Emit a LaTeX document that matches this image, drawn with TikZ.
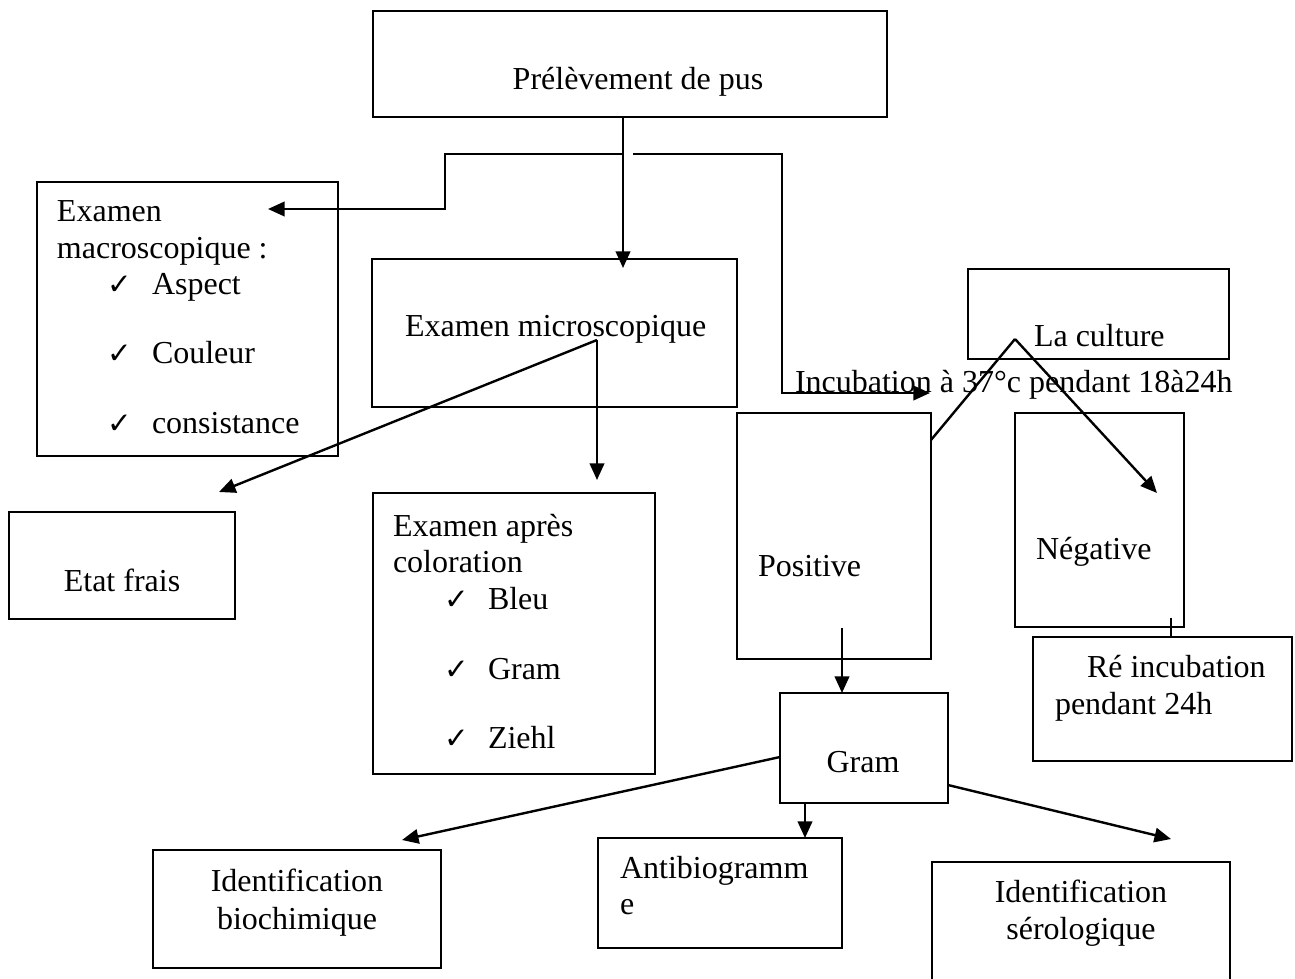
\documentclass[tikz,border=0pt]{standalone}
\usepackage{fontspec}
\setmainfont{Liberation Serif}
\newfontfamily\symfont{DejaVu Sans}
\usetikzlibrary{arrows.meta,fit,calc}
\tikzstyle{box}=[draw, line width=0.6pt, inner sep=0pt, outer sep=0pt]
\tikzstyle{txt}=[inner sep=0pt, outer sep=0pt,
                 font=\fontsize{12}{13.8}\selectfont]
\tikzstyle{chk}=[inner sep=0pt, outer sep=0pt,
                 font=\symfont\fontsize{11}{12}\selectfont]
\tikzstyle{edge}=[line width=0.9pt]
\tikzstyle{arr}=[edge, -{Triangle[length=6.2pt,width=5.4pt]}]

\begin{document}
\begin{tikzpicture}[x=0.375pt, y=-0.375pt]
    \useasboundingbox (0,0) rectangle (1295,978);
    \clip (0,0) rectangle (1295,978);

        % boxes
        \node (prel)  [box, fit={(373,11) (887,117)}] {};
        \node (macro) [box, fit={(37,182) (338,456)}] {};
        \node (micro) [box, fit={(372,259) (737,407)}] {};
        \node (etat)  [box, fit={(9,512) (235,619)}] {};
        \node (apres) [box, fit={(373,493) (655,774)}] {};
        \node (cult)  [box, fit={(968,269) (1229,359)}] {};
        \node (pos)   [box, fit={(737,413) (931,659)}] {};
        \node (neg)   [box, fit={(1015,413) (1184,627)}] {};
        \node (reinc) [box, fit={(1033,637) (1292,761)}] {};
        \node (gram)  [box, fit={(780,693) (948,803)}] {};
        \node (bio)   [box, fit={(153,850) (441,968)}] {};
        \node (anti)  [box, fit={(598,838) (842,948)}] {};
        \node (sero)  [box, fit={(932,862) (1230,990)}] {};

        % texts
        \draw (638,89) node (prelT) [txt, anchor=base] {Prélèvement de pus};
        \draw (57,221) node (macroT1) [txt, anchor=base west] {Examen};
        \draw (57,258) node (macroT2) [txt, anchor=base west] {macroscopique :};
        \foreach \y/\w in {294/Aspect, 363/Couleur, 433/consistance} {
            \draw (107,\y) node (macroC\y) [chk, anchor=base west] {✓};
            \draw (152,\y) node (macroL\y) [txt, anchor=base west] {\w};
        }
        \draw (405,336) node (microT) [txt, anchor=base west] {Examen microscopique};
        \draw (122,591) node (etatT) [txt, anchor=base] {Etat frais};
        \draw (393,536) node (apresT1) [txt, anchor=base west] {Examen après};
        \draw (393,572) node (apresT2) [txt, anchor=base west] {coloration};
        \foreach \y/\w in {609/Bleu, 679/Gram, 748/Ziehl} {
            \draw (444,\y) node (apresC\y) [chk, anchor=base west] {✓};
            \draw (488,\y) node (apresL\y) [txt, anchor=base west] {\w};
        }
        \draw (1034,346) node (cultT) [txt, anchor=base west] {La culture};
        \draw (795,392) node (incub) [txt, anchor=base west] {Incubation à 37°c pendant 18à24h};
        \draw (758,576) node (posT) [txt, anchor=base west] {Positive};
        \draw (1036,559) node (negT) [txt, anchor=base west] {Négative};
        \draw (1087,677) node (reincT1) [txt, anchor=base west] {Ré incubation};
        \draw (1055,714) node (reincT2) [txt, anchor=base west] {pendant 24h};
        \draw (863,772) node (gramT) [txt, anchor=base] {Gram};
        \draw (297,891) node (bioT1) [txt, anchor=base] {Identification};
        \draw (297,929) node (bioT2) [txt, anchor=base] {biochimique};
        \draw (620,878) node (antiT1) [txt, anchor=base west] {Antibiogramm};
        \draw (620,914) node (antiT2) [txt, anchor=base west] {e};
        \draw (1081,902) node (seroT1) [txt, anchor=base] {Identification};
        \draw (1081,939) node (seroT2) [txt, anchor=base] {sérologique};

        % connector ends
        \coordinate (fork)     at (623,154);
        \coordinate (macroIn)  at (268,209);
        \coordinate (microIn)  at (623,268);
        \coordinate (cultIn)   at (930,393);
        \coordinate (microOut) at (597,340);
        \coordinate (etatIn)   at (219,492);
        \coordinate (apresIn)  at (597,480);
        \coordinate (cultOut)  at (1015,339);
        \coordinate (posIn)    at (931,440);
        \coordinate (negIn)    at (1157,493);
        \coordinate (posOut)   at (842,628);
        \coordinate (gramL)    at (780,757);
        \coordinate (gramB)    at (805,803);
        \coordinate (gramR)    at (948,785);
        \coordinate (bioIn)    at (402,840);
        \coordinate (seroIn)   at (1171,839);
        \coordinate (negOut)   at (1171,618);

        % connectors
        \draw [arr] (prel.south -| fork) -- (microIn);
        \draw [arr] (fork) -| (445,209) -- (macroIn);
        \draw [arr] ($(fork)+(10,0)$) -| (782,393) -- (cultIn);
        \draw [arr] (microOut) -- (etatIn);
        \draw [arr] (microOut) -- (apresIn);
        \draw [edge] (cultOut) -- (posIn);
        \draw [arr] (cultOut) -- (negIn);
        \draw [arr] (posOut) -- (posOut |- gram.north);
        \draw [arr] (gramL) -- (bioIn);
        \draw [arr] (gramB) -- (gramB |- anti.north);
        \draw [arr] (gramR) -- (seroIn);
        \draw [edge] (negOut) -- (negOut |- reinc.north);

\end{tikzpicture}
\end{document}
